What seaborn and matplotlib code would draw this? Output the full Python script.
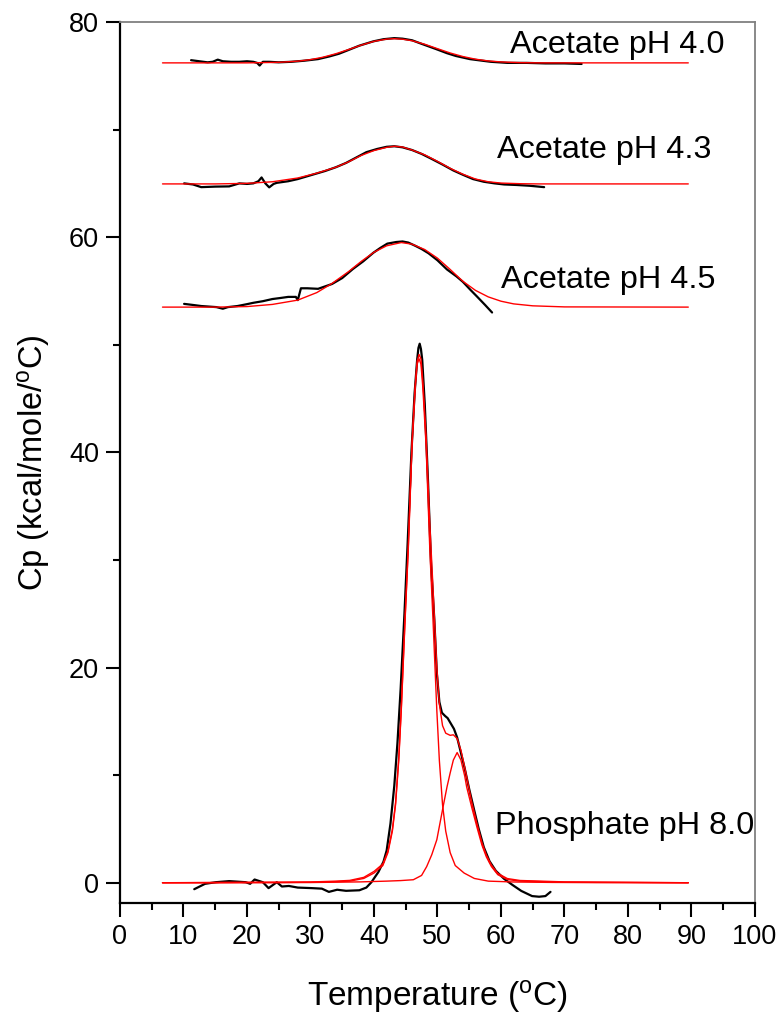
import matplotlib
matplotlib.use("Agg")
import matplotlib.pyplot as plt
import seaborn as sns
import pandas as pd

# ---------------- data ----------------
# Acetate pH 4.0 : measured (black) and fit (red)
x_a40 = [11.2, 12.5, 13.8, 14.6, 15.4, 16.2, 17.5, 18.8, 20.0, 21.0, 21.6, 22.0, 22.5, 23.5, 25.0, 27.0,
         29.0, 31.2, 33.0, 34.5, 36.0, 37.7, 39.9, 41.5, 43.2, 44.5, 46.0, 47.5, 49.7, 51.5, 52.9, 55.1,
         58.4, 61.0, 64.0, 67.0, 70.0, 72.7]
y_a40 = [76.45, 76.35, 76.25, 76.3, 76.5, 76.35, 76.3, 76.3, 76.35, 76.3, 76.2, 75.95, 76.3, 76.3, 76.25,
         76.3, 76.4, 76.55, 76.8, 77.05, 77.4, 77.8, 78.2, 78.4, 78.5, 78.45, 78.3, 77.97, 77.5, 77.1,
         76.84, 76.55, 76.3, 76.2, 76.2, 76.15, 76.15, 76.1]
fx_a40 = [6.7, 20, 25, 28, 30, 32, 34, 36, 38, 40, 42, 43.2, 44.5, 46, 48, 50, 52, 54, 56, 58, 60, 63, 66, 89.5]
fy_a40 = [76.2, 76.2, 76.25, 76.36, 76.5, 76.73, 77.05, 77.44, 77.85, 78.2, 78.41, 78.45, 78.4, 78.26,
          77.93, 77.52, 77.12, 76.79, 76.54, 76.38, 76.29, 76.22, 76.2, 76.2]

# Acetate pH 4.3
x_a43 = [10.1, 11.5, 12.8, 15.0, 17.2, 18.8, 20.0, 21.0, 21.8, 22.3, 22.9, 23.5, 24.2, 24.7, 26.5, 28.0,
         30.0, 32.3, 34.0, 35.6, 37.2, 38.8, 40.5, 42.0, 43.2, 44.5, 46.0, 47.5, 49.0, 50.8, 52.5, 54.0,
         55.6, 57.3, 59.0, 60.5, 62.5, 64.5, 66.8]
y_a43 = [65.0, 64.9, 64.65, 64.7, 64.72, 65.0, 64.95, 65.0, 65.2, 65.55, 65.0, 64.63, 64.95, 65.05, 65.2,
         65.4, 65.75, 66.15, 66.5, 66.9, 67.4, 67.9, 68.2, 68.4, 68.45, 68.35, 68.1, 67.74, 67.3, 66.75,
         66.2, 65.8, 65.4, 65.15, 65.0, 64.9, 64.85, 64.78, 64.65]
fx_a43 = [6.7, 15, 20, 24, 28, 31, 34, 36, 38, 40, 42, 43.2, 44.5, 46, 48, 50, 52, 54, 56, 58, 60, 63, 66, 89.5]
fy_a43 = [64.95, 64.95, 65.0, 65.15, 65.5, 65.95, 66.5, 67.0, 67.6, 68.05, 68.35, 68.45, 68.38, 68.1,
          67.65, 67.05, 66.4, 65.85, 65.4, 65.15, 65.03, 64.97, 64.95, 64.95]

# Acetate pH 4.5
x_a45 = [10.1, 11.5, 12.8, 14.0, 15.2, 16.2, 17.0, 18.5, 19.8, 21.0, 22.5, 24.0, 25.3, 26.5, 27.7, 28.0,
         28.5, 29.5, 31.2, 33.4, 35.0, 36.7, 38.3, 39.9, 41.0, 42.1, 43.5, 44.5, 45.4, 46.5, 47.5, 48.6,
         50.0, 51.5, 53.0, 54.0, 55.2, 56.2, 57.5, 58.6]
y_a45 = [53.8, 53.7, 53.6, 53.55, 53.5, 53.35, 53.5, 53.6, 53.75, 53.9, 54.05, 54.25, 54.35, 54.45, 54.45,
         54.15, 55.25, 55.25, 55.2, 55.65, 56.2, 57.05, 57.75, 58.55, 59.0, 59.4, 59.55, 59.6, 59.5, 59.2,
         58.9, 58.5, 57.85, 57.0, 56.35, 55.85, 55.1, 54.5, 53.7, 53.0]
fx_a45 = [6.7, 15, 20, 24, 28, 31, 33.4, 36, 38, 40, 42, 44.3, 46, 48, 50, 52, 54, 56, 58, 60, 62, 65, 70, 89.5]
fy_a45 = [53.5, 53.5, 53.55, 53.75, 54.15, 54.85, 55.7, 56.8, 57.75, 58.6, 59.2, 59.5, 59.35, 58.85, 58.05,
          57.0, 55.9, 55.05, 54.45, 54.05, 53.8, 53.62, 53.52, 53.5]

# Phosphate pH 8.0 : measured
x_p80 = [11.7, 13.4, 15.1, 17.2, 19.8, 20.5, 21.2, 22.5, 23.4, 24.7, 25.5, 26.6, 28.0, 30.2, 31.8, 32.9,
         34.2, 35.6, 37.7, 38.8, 39.6, 40.7, 41.5, 42.0, 42.6, 43.2, 43.7, 44.2, 44.8, 45.3, 45.9, 46.4,
         46.8, 47.0, 47.2, 47.4, 47.6, 48.0, 48.5, 49.0, 49.5, 49.9, 50.3, 50.7, 51.2, 51.6, 52.1, 52.6,
         53.1, 53.6, 54.3, 55.0, 55.8, 56.5, 57.3, 58.2, 59.2, 60.5, 61.8, 63.2, 64.9, 66.0, 67.0, 67.8]
y_p80 = [-0.6, -0.1, 0.05, 0.15, 0.05, -0.1, 0.3, 0.05, -0.5, 0.05, -0.35, -0.3, -0.45, -0.5, -0.55, -0.85,
         -0.65, -0.75, -0.7, -0.45, 0.05, 1.0, 1.96, 3.0, 5.5, 9.0, 13.0, 18.0, 25.0, 31.5, 40.0, 45.5,
         48.6, 49.7, 50.1, 49.6, 48.6, 44.5, 37.5, 29.5, 24.5, 19.5, 16.8, 15.8, 15.5, 15.3, 14.8, 14.3,
         13.5, 12.3, 10.6, 8.7, 6.7, 5.0, 3.3, 2.0, 1.1, 0.36, -0.2, -0.76, -1.24, -1.3, -1.24, -0.85]
# Phosphate fit: total, main component, second component
fx_p80 = [6.7, 30, 34, 36.2, 38.4, 40.0, 41.4, 42.2, 42.9, 43.4, 43.9, 44.3, 44.9, 45.4, 46.0, 46.5, 46.8,
          47.1, 47.4, 47.7, 48.2, 48.8, 49.3, 49.9, 50.3, 50.8, 51.3, 52.0, 52.5, 53.1, 53.7, 54.3, 55.4,
          56.2, 57.0, 57.7, 58.5, 59.5, 61.0, 63.0, 70.0, 89.5]
fy_p80 = [0.0, 0.07, 0.15, 0.22, 0.5, 1.05, 1.75, 2.95, 4.97, 7.43, 11.55, 16.2, 24.62, 31.13, 40.98, 46.3,
          48.5, 49.1, 48.7, 46.6, 41.6, 33.3, 27.4, 20.0, 16.6, 14.6, 13.9, 13.7, 13.75, 13.4, 12.3, 10.7,
          7.5, 5.55, 3.75, 2.57, 1.64, 0.87, 0.39, 0.21, 0.08, 0.0]
cx1_p80 = [6.7, 25, 30, 34, 36.2, 38.4, 40.0, 41.4, 42.2, 42.9, 43.4, 43.9, 44.3, 44.9, 45.4, 46.0, 46.5,
           46.8, 47.1, 47.4, 47.7, 48.2, 48.8, 49.3, 49.9, 50.3, 50.8, 51.3, 52.0, 52.8, 54.2, 55.8, 58.0,
           62.0, 68.0, 75.0, 89.5]
cy1_p80 = [0, 0.02, 0.05, 0.1, 0.15, 0.4, 0.9, 1.6, 2.8, 4.8, 7.25, 11.35, 16.0, 24.4, 30.9, 40.7, 46.0,
           48.2, 48.7, 48.2, 46.0, 40.7, 30.9, 24.4, 16.0, 11.35, 7.25, 4.8, 2.8, 1.6, 0.9, 0.4, 0.15, 0.07,
           0.03, 0.01, 0]
cx2_p80 = [6.7, 30, 38, 42, 44.2, 46.2, 47.5, 48.3, 49.1, 49.9, 50.9, 51.5, 52.0, 52.5, 53.1, 53.7, 54.3,
           54.6, 55.4, 56.2, 57.0, 57.7, 58.5, 59.5, 61.0, 63.0, 70.0, 89.5]
cy2_p80 = [0, 0.02, 0.08, 0.15, 0.2, 0.28, 0.68, 1.5, 2.6, 4.0, 7.1, 8.9, 10.2, 11.4, 12.1, 11.4, 9.9, 8.9,
           7.0, 5.2, 3.5, 2.4, 1.5, 0.75, 0.3, 0.15, 0.05, 0]

labels = ["Acetate pH 4.0", "Acetate pH 4.3", "Acetate pH 4.5", "Phosphate pH 8.0"]
label_x = [61.4, 59.4, 60.0, 59.1]
label_y = [77.9, 68.1, 56.0, 5.3]

x_ticks = list(range(0, 101, 10))
y_ticks = [0, 20, 40, 60, 80]

# ---------------- styling ----------------
sns.set_theme(style="ticks")
plt.rcParams['font.family'] = ['Liberation Sans', 'DejaVu Sans']
plt.rcParams['mathtext.fontset'] = 'custom'
plt.rcParams['mathtext.rm'] = 'Liberation Sans'
plt.rcParams['mathtext.it'] = 'Liberation Sans'
plt.rcParams['text.color'] = 'black'
plt.rcParams['axes.labelcolor'] = 'black'
plt.rcParams['xtick.color'] = 'black'
plt.rcParams['ytick.color'] = 'black'
plt.rcParams['xtick.labelcolor'] = 'black'
plt.rcParams['ytick.labelcolor'] = 'black'

fig = plt.figure(figsize=(7.8, 10.18), dpi=100)
ax = fig.add_axes([0.1538, 0.113, 0.8141, 0.8654])

measured = [(x_a40, y_a40), (x_a43, y_a43), (x_a45, y_a45), (x_p80, y_p80)]
fits = [(fx_a40, fy_a40), (fx_a43, fy_a43), (fx_a45, fy_a45),
        (cx1_p80, cy1_p80), (cx2_p80, cy2_p80), (fx_p80, fy_p80)]

for xs, ys in measured:
    df = pd.DataFrame({"T": xs, "Cp": ys})
    sns.lineplot(data=df, x="T", y="Cp", ax=ax, color="black", lw=1.6,
                 sort=False, estimator=None)
for xs, ys in fits:
    df = pd.DataFrame({"T": xs, "Cp": ys})
    sns.lineplot(data=df, x="T", y="Cp", ax=ax, color="#ff0000", lw=1.0,
                 sort=False, estimator=None)

for t, lx, ly in zip(labels, label_x, label_y):
    ax.text(lx, ly, t, fontsize=23.3, ha="left", va="center", color="black")

ax.set_xlim(0, 100)
ax.set_ylim(-1.88, 80)
ax.set_xticks(x_ticks)
ax.set_xticks(list(range(5, 100, 10)), minor=True)
ax.set_yticks(y_ticks)
ax.set_yticks([10, 30, 50, 70], minor=True)
ax.tick_params(axis="both", which="major", direction="out", length=10, width=1.5,
               labelsize=19.5, color="black", labelcolor="black", pad=5)
ax.tick_params(axis="both", which="minor", direction="out", length=5, width=1.5, color="black")
ax.tick_params(top=False, right=False, which="both")

for side in ["left", "bottom"]:
    ax.spines[side].set_color("black")
    ax.spines[side].set_linewidth(1.6)
for side in ["top", "right"]:
    ax.spines[side].set_color("#808080")
    ax.spines[side].set_linewidth(1.3)

ax.set_xlabel(r"Temperature ($\mathregular{^{o}}$C)", fontsize=24, labelpad=20, color="black")
ax.set_ylabel(r"Cp (kcal/mole/$\mathregular{^{o}}$C)", fontsize=23.5, labelpad=12, color="black")

fig.savefig("out.png", dpi=100)
